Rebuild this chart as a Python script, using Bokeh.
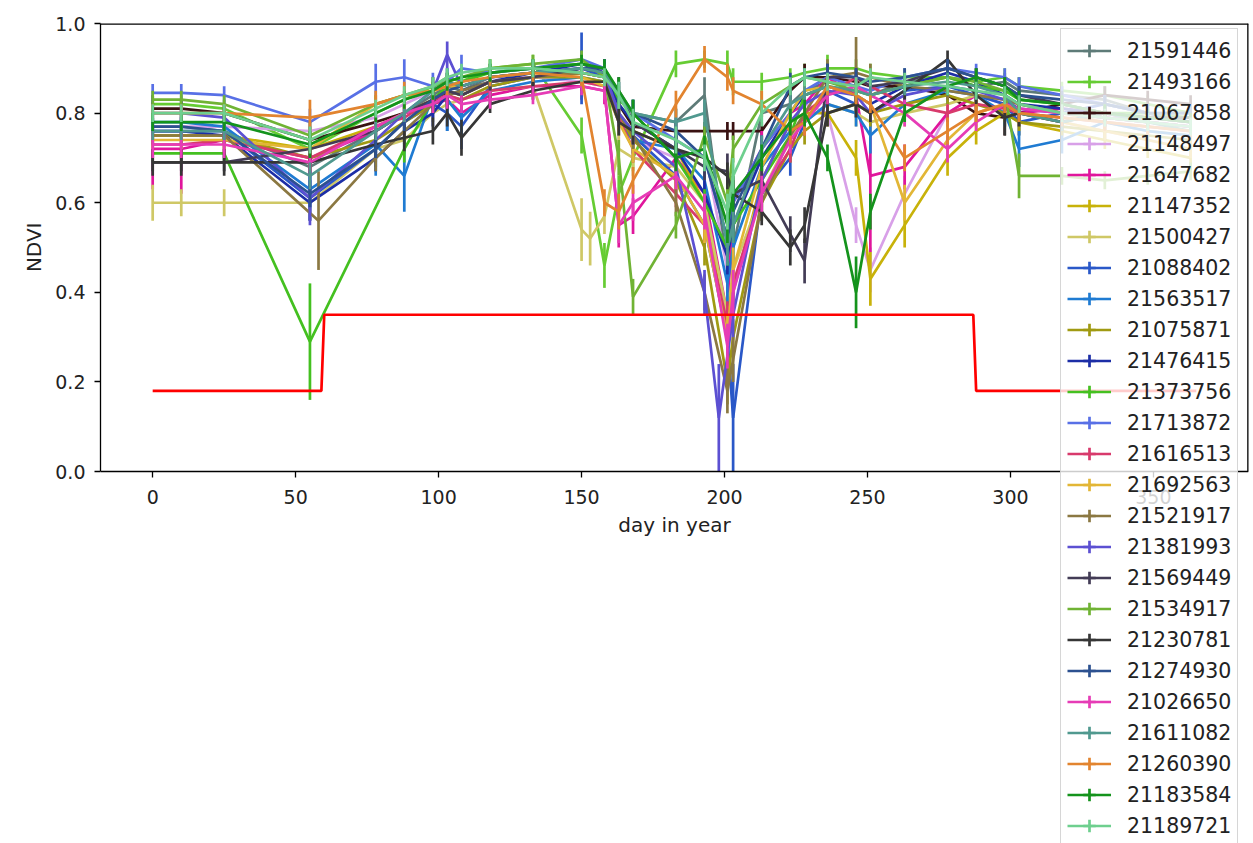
import math
from bokeh.plotting import figure
from bokeh.models import Legend, LegendItem, FixedTicker, PrintfTickFormatter, Title
from bokeh.embed import file_html
from bokeh.resources import INLINE

N = None

# acquisition days (day in year)
days = [0, 10, 25, 55, 58, 78, 88, 98, 103, 108, 118, 133, 150, 153, 158, 163, 168,
        183, 193, 198, 201, 203, 213, 223, 228, 236, 246, 251, 263, 278, 288, 298, 303,
        318, 333, 348, 363]

field_ids = ["21591446", "21493166", "21067858", "21148497", "21647682", "21147352",
             "21500427", "21088402", "21563517", "21075871", "21476415", "21373756",
             "21713872", "21616513", "21692563", "21521917", "21381993", "21569449",
             "21534917", "21230781", "21274930", "21026650", "21611082", "21260390",
             "21183584", "21189721"]

colors = ["#5e7b78", "#66cc33", "#3a1212", "#d8a0e8", "#e0169c", "#c8b20a",
          "#cfc866", "#2a58c8", "#1f7bd2", "#a09a12", "#1c2ea6", "#44c020",
          "#5870e6", "#d83a6c", "#e2b636", "#8b7842", "#5c50d2", "#433c56",
          "#70b334", "#363636", "#2c5190", "#e63cb6", "#50998f", "#e2842f",
          "#14931c", "#6ecf8e"]

ndvi_21591446 = [0.77,0.77,0.76,0.68,N,0.76,0.80,0.84,0.86,0.85,0.88,0.89,0.90,N,0.89,0.85,0.80,0.78,0.84,N,0.45,0.50,0.80,0.82,0.85,0.87,0.86,0.84,0.87,0.88,0.86,0.87,0.85,0.84,0.83,0.80,0.78]
ndvi_21493166 = [0.82,0.82,0.81,0.72,N,0.80,0.83,0.86,0.88,0.87,0.90,0.91,0.75,N,0.46,0.62,0.70,0.91,0.92,N,0.91,0.87,0.87,0.88,0.89,0.90,0.90,0.89,0.88,0.88,0.87,0.88,0.86,0.85,0.84,0.82,0.80]
ndvi_21067858 = [0.81,0.81,0.80,0.74,N,0.78,0.80,0.82,0.85,0.84,0.87,0.88,0.89,N,0.88,0.82,0.77,0.76,0.76,N,0.76,0.76,0.76,0.85,0.88,0.88,0.87,0.86,0.86,0.84,0.80,0.79,0.80,0.82,0.84,0.83,0.82]
ndvi_21148497 = [0.77,0.77,0.77,0.76,N,0.79,0.82,0.85,0.87,0.86,0.88,0.88,0.87,N,0.86,0.78,0.74,0.70,0.72,N,0.45,0.55,0.70,0.78,0.82,0.80,0.55,0.45,0.62,0.80,0.84,0.82,0.80,0.78,0.76,0.74,0.72]
ndvi_21647682 = [0.72,0.72,0.74,0.70,N,0.76,0.80,0.82,0.83,0.80,0.84,0.86,0.86,N,0.85,0.55,0.57,0.70,0.62,N,0.35,0.60,0.72,0.80,0.82,0.88,0.84,0.66,0.68,0.80,0.84,0.83,0.80,0.81,0.80,0.78,0.77]
ndvi_21147352 = [0.75,0.75,0.75,0.72,N,0.77,0.80,0.83,0.85,0.84,0.87,0.88,0.89,N,0.88,0.80,0.76,0.72,0.60,N,0.30,0.40,0.65,0.78,0.80,0.80,0.70,0.43,0.55,0.70,0.76,0.80,0.78,0.76,0.74,0.72,0.70]
ndvi_21500427 = [0.60,0.60,0.60,0.60,N,0.72,0.74,0.80,0.82,0.83,0.85,0.86,0.54,0.52,0.57,0.72,0.70,0.68,0.60,N,0.35,0.45,0.62,0.75,0.78,0.82,0.80,0.78,0.80,0.82,0.84,0.83,0.82,0.80,0.78,0.76,0.75]
ndvi_21088402 = [0.76,0.76,0.76,0.61,N,0.72,0.78,0.82,0.80,0.77,0.86,0.88,0.90,N,0.88,0.80,0.75,0.66,0.55,N,0.30,0.12,0.62,0.70,0.78,0.85,0.82,0.80,0.85,0.86,0.84,0.82,0.78,0.80,0.82,0.80,0.78]
ndvi_21563517 = [0.78,0.78,0.77,0.63,N,0.73,0.66,0.84,0.83,0.79,0.85,0.87,0.88,N,0.87,0.78,0.74,0.72,0.65,N,0.42,0.50,0.68,0.76,0.78,0.82,0.80,0.75,0.82,0.85,0.84,0.80,0.72,0.74,0.78,0.76,0.75]
ndvi_21075871 = [0.75,0.75,0.75,0.70,N,0.74,0.78,0.82,0.84,0.83,0.86,0.88,0.88,N,0.87,0.80,0.74,0.65,0.50,N,0.20,0.30,0.60,0.72,0.76,0.80,0.82,0.80,0.82,0.84,0.82,0.80,0.78,0.77,0.76,0.75,0.74]
ndvi_21476415 = [0.76,0.76,0.75,0.60,N,0.70,0.76,0.80,0.84,0.85,0.87,0.89,0.91,N,0.89,0.82,0.78,0.72,0.62,N,0.48,0.55,0.70,0.80,0.84,0.86,0.84,0.82,0.86,0.89,0.87,0.84,0.82,0.81,0.80,0.79,0.78]
ndvi_21373756 = [0.71,0.71,0.71,0.29,N,N,0.72,0.83,0.86,0.87,0.89,0.90,0.91,N,0.90,0.83,0.80,0.70,0.60,N,0.50,0.55,0.65,0.75,0.84,0.86,0.85,0.84,0.86,0.88,0.86,0.85,0.83,0.82,0.80,0.80,0.79]
ndvi_21713872 = [0.845,0.845,0.84,0.78,N,0.87,0.88,0.86,0.87,0.90,0.89,0.90,0.92,N,0.90,0.84,0.80,0.74,0.70,N,0.52,0.60,0.72,0.80,0.85,0.88,0.86,0.85,0.88,0.90,0.89,0.88,0.86,0.84,0.82,0.80,0.80]
ndvi_21616513 = [0.73,0.73,0.74,0.70,N,0.77,0.79,0.83,0.84,0.83,0.85,0.86,0.87,N,0.86,0.79,0.72,0.62,0.55,N,0.33,0.42,0.62,0.72,0.80,0.84,0.88,0.86,0.82,0.80,0.82,0.81,0.80,0.79,0.78,0.77,0.76]
ndvi_21692563 = [0.74,0.74,0.74,0.72,N,0.82,0.84,0.85,0.86,0.86,0.88,0.89,0.88,N,0.86,0.78,0.72,0.66,0.55,N,0.30,0.45,0.68,0.80,0.85,0.86,0.84,0.82,0.60,0.74,0.80,0.82,0.80,0.78,0.76,0.74,0.72]
ndvi_21521917 = [0.75,0.75,0.75,N,0.56,0.70,0.76,0.82,0.84,0.85,0.87,0.88,0.89,N,0.88,0.80,0.75,0.60,0.40,N,0.18,0.25,0.60,0.75,0.80,0.88,0.89,0.88,0.86,0.85,0.84,0.83,0.82,0.80,0.79,0.78,0.77]
ndvi_21381993 = [0.80,0.80,0.79,0.61,N,0.74,0.80,0.85,0.93,0.86,0.88,0.89,0.90,N,0.89,0.80,0.76,0.68,0.40,0.12,N,0.35,0.65,0.78,0.82,0.85,0.84,0.80,0.84,0.86,0.85,0.83,0.81,0.80,0.79,0.78,0.77]
ndvi_21569449 = [0.69,0.69,0.69,0.72,N,0.76,0.80,0.83,0.85,0.84,0.87,0.88,0.90,N,0.89,0.85,0.78,0.72,0.68,N,0.67,0.62,0.65,0.53,0.47,0.88,0.88,0.86,0.87,0.90,0.88,0.86,0.84,0.82,0.80,0.79,0.78]
ndvi_21534917 = [0.83,0.83,0.82,0.75,N,0.82,0.84,0.86,0.87,0.88,0.90,0.91,0.92,N,0.88,0.70,0.39,0.55,0.75,N,0.60,0.72,0.82,0.86,0.88,0.87,0.85,0.84,0.86,0.88,0.87,0.85,0.66,0.66,0.65,0.66,0.67]
ndvi_21230781 = [0.69,0.69,0.69,0.69,N,0.73,0.745,0.76,0.80,0.745,0.82,0.85,0.87,N,0.87,0.78,0.76,0.72,0.70,N,0.66,0.62,0.58,0.50,0.55,0.80,0.82,0.80,0.85,0.92,0.84,0.79,0.80,0.78,0.80,0.79,0.79]
ndvi_21274930 = [0.77,0.77,0.76,0.62,N,0.72,0.78,0.83,0.85,0.86,0.88,0.89,0.90,N,0.90,0.84,0.80,0.76,0.70,N,0.52,0.58,0.72,0.86,0.88,0.89,0.88,0.87,0.88,0.90,0.88,0.86,0.84,0.83,0.82,0.80,0.80]
ndvi_21026650 = [0.73,0.73,0.73,0.69,N,0.77,0.80,0.82,0.84,0.82,0.83,0.84,0.86,N,0.85,0.55,0.60,0.66,0.58,N,0.28,0.40,0.62,0.74,0.78,0.84,0.86,0.84,0.80,0.72,0.78,0.82,0.81,0.80,0.79,0.78,0.77]
ndvi_21611082 = [0.76,0.76,0.76,0.66,N,0.76,0.80,0.85,0.87,0.86,0.88,0.89,0.90,N,0.89,0.84,0.80,0.78,0.80,N,0.50,0.55,0.72,0.82,0.84,0.86,0.85,0.84,0.86,0.87,0.86,0.84,0.80,0.78,0.80,0.78,0.76]
ndvi_21260390 = [0.80,0.80,0.80,0.79,N,0.82,0.84,0.85,0.86,0.87,0.88,0.89,0.88,N,0.60,0.58,0.65,0.82,0.92,N,0.88,0.85,0.82,0.76,0.78,0.86,0.84,0.82,0.70,0.76,0.80,0.82,0.80,0.79,0.78,0.77,0.76]
ndvi_21183584 = [0.78,0.78,0.78,0.73,N,0.80,0.83,0.85,0.87,0.88,0.89,0.90,0.91,N,0.90,0.85,0.80,0.70,0.72,N,0.55,0.62,0.70,0.78,0.80,0.70,0.40,0.58,0.80,0.86,0.88,0.86,0.83,0.82,0.80,0.79,0.78]
ndvi_21189721 = [0.80,0.80,0.80,0.74,N,0.81,0.84,0.86,0.88,0.89,0.90,0.90,0.89,N,0.88,0.84,0.78,0.74,0.70,N,0.58,0.66,0.80,0.86,0.88,0.87,0.86,0.88,0.87,0.86,0.85,0.84,0.82,0.80,0.79,0.78,0.77]

err_21591446 = [0.03,0.03,0.03,0.04,0,0.03,0.03,0.02,0.03,0.02,0.02,0.02,0.03,0,0.02,0.03,0.03,0.03,0.04,0,0.06,0.05,0.03,0.03,0.03,0.02,0.02,0.03,0.02,0.02,0.03,0.02,0.03,0.02,0.03,0.02,0.03]
err_21493166 = [0.02,0.02,0.02,0.03,0,0.03,0.02,0.02,0.02,0.02,0.02,0.02,0.04,0,0.05,0.04,0.03,0.03,0.02,0,0.03,0.03,0.02,0.02,0.02,0.03,0.02,0.02,0.02,0.02,0.03,0.02,0.02,0.02,0.02,0.02,0.02]
err_21067858 = [0.03,0.02,0.02,0.03,0,0.02,0.02,0.02,0.03,0.03,0.02,0.02,0.02,0,0.02,0.03,0.02,0.02,0.02,0,0.02,0.02,0.02,0.02,0.03,0.02,0.02,0.02,0.02,0.02,0.02,0.04,0.02,0.02,0.02,0.02,0.02]
err_21148497 = [0.02,0.02,0.02,0.02,0,0.03,0.02,0.02,0.02,0.02,0.02,0.02,0.02,0,0.03,0.04,0.03,0.03,0.03,0,0.06,0.05,0.04,0.03,0.03,0.03,0.04,0.05,0.04,0.03,0.02,0.02,0.03,0.03,0.02,0.02,0.02]
err_21647682 = [0.09,0.10,0.03,0.04,0,0.03,0.03,0.02,0.03,0.03,0.02,0.02,0.03,0,0.03,0.05,0.04,0.04,0.05,0,0.08,0.05,0.04,0.03,0.03,0.03,0.04,0.17,0.05,0.03,0.03,0.02,0.03,0.03,0.02,0.02,0.02]
err_21147352 = [0.02,0.02,0.02,0.03,0,0.02,0.02,0.02,0.02,0.02,0.02,0.02,0.02,0,0.02,0.03,0.03,0.03,0.04,0,0.05,0.05,0.04,0.03,0.03,0.03,0.04,0.06,0.05,0.04,0.03,0.03,0.03,0.02,0.02,0.02,0.02]
err_21500427 = [0.04,0.03,0.03,0.04,0,0.03,0.03,0.02,0.02,0.02,0.02,0.02,0.07,0.06,0.04,0.04,0.04,0.03,0.04,0,0.05,0.04,0.03,0.03,0.03,0.02,0.03,0.03,0.03,0.03,0.02,0.02,0.02,0.02,0.02,0.02,0.02]
err_21088402 = [0.03,0.03,0.02,0.05,0,0.04,0.03,0.03,0.04,0.05,0.02,0.02,0.08,0,0.03,0.03,0.03,0.04,0.05,0,0.06,0.12,0.05,0.04,0.03,0.03,0.03,0.03,0.03,0.03,0.02,0.02,0.03,0.03,0.02,0.02,0.02]
err_21563517 = [0.03,0.03,0.03,0.04,0,0.07,0.08,0.03,0.07,0.04,0.02,0.02,0.03,0,0.03,0.03,0.03,0.03,0.04,0,0.05,0.05,0.04,0.03,0.03,0.03,0.03,0.04,0.03,0.03,0.03,0.03,0.04,0.03,0.02,0.02,0.02]
err_21075871 = [0.02,0.02,0.02,0.03,0,0.02,0.02,0.02,0.02,0.02,0.02,0.02,0.02,0,0.02,0.03,0.03,0.03,0.04,0,0.05,0.04,0.04,0.03,0.03,0.02,0.02,0.03,0.02,0.02,0.02,0.02,0.02,0.02,0.02,0.02,0.02]
err_21476415 = [0.03,0.03,0.02,0.04,0,0.03,0.03,0.03,0.03,0.03,0.02,0.02,0.03,0,0.03,0.03,0.03,0.03,0.03,0,0.04,0.04,0.03,0.03,0.03,0.02,0.02,0.02,0.02,0.02,0.02,0.02,0.02,0.02,0.02,0.02,0.02]
err_21373756 = [0.02,0.02,0.02,0.13,0,0,0.03,0.03,0.02,0.02,0.02,0.02,0.02,0,0.02,0.03,0.03,0.03,0.03,0,0.04,0.04,0.03,0.03,0.02,0.02,0.02,0.02,0.02,0.02,0.02,0.02,0.02,0.02,0.02,0.02,0.02]
err_21713872 = [0.02,0.02,0.02,0.03,0,0.04,0.04,0.03,0.03,0.03,0.02,0.02,0.02,0,0.02,0.03,0.03,0.03,0.03,0,0.05,0.04,0.03,0.03,0.02,0.02,0.02,0.02,0.02,0.02,0.02,0.02,0.02,0.02,0.02,0.02,0.02]
err_21616513 = [0.03,0.03,0.03,0.03,0,0.02,0.02,0.02,0.02,0.02,0.02,0.02,0.02,0,0.02,0.03,0.03,0.03,0.04,0,0.05,0.05,0.04,0.03,0.03,0.02,0.02,0.02,0.02,0.02,0.03,0.02,0.02,0.02,0.02,0.02,0.02]
err_21692563 = [0.02,0.02,0.02,0.03,0,0.02,0.02,0.02,0.02,0.02,0.02,0.02,0.02,0,0.02,0.03,0.03,0.03,0.04,0,0.05,0.05,0.04,0.04,0.03,0.02,0.02,0.02,0.04,0.04,0.03,0.02,0.02,0.02,0.02,0.02,0.02]
err_21521917 = [0.02,0.02,0.02,0,0.11,0.03,0.02,0.02,0.02,0.02,0.02,0.02,0.02,0,0.02,0.03,0.03,0.03,0.04,0,0.05,0.05,0.04,0.03,0.03,0.04,0.08,0.03,0.02,0.02,0.02,0.02,0.02,0.02,0.02,0.02,0.02]
err_21381993 = [0.03,0.03,0.03,0.06,0,0.03,0.03,0.03,0.03,0.04,0.02,0.02,0.03,0,0.03,0.03,0.03,0.03,0.05,0.12,0,0.05,0.04,0.03,0.03,0.02,0.02,0.02,0.02,0.02,0.02,0.02,0.02,0.02,0.02,0.02,0.02]
err_21569449 = [0.02,0.02,0.02,0.03,0,0.02,0.02,0.02,0.02,0.02,0.02,0.02,0.02,0,0.02,0.03,0.03,0.03,0.03,0,0.04,0.04,0.04,0.04,0.05,0.03,0.02,0.02,0.02,0.02,0.02,0.02,0.02,0.02,0.02,0.02,0.02]
err_21534917 = [0.02,0.02,0.02,0.03,0,0.02,0.02,0.02,0.02,0.02,0.02,0.02,0.02,0,0.02,0.04,0.04,0.03,0.03,0,0.04,0.03,0.03,0.02,0.02,0.02,0.02,0.02,0.02,0.02,0.02,0.03,0.05,0.02,0.02,0.02,0.02]
err_21230781 = [0.03,0.03,0.03,0.03,0,0.03,0.03,0.03,0.03,0.04,0.02,0.02,0.02,0,0.02,0.03,0.03,0.03,0.03,0,0.03,0.03,0.03,0.04,0.04,0.03,0.03,0.02,0.02,0.02,0.02,0.04,0.03,0.02,0.02,0.02,0.02]
err_21274930 = [0.02,0.02,0.02,0.03,0,0.02,0.02,0.02,0.02,0.02,0.02,0.02,0.02,0,0.02,0.03,0.03,0.03,0.03,0,0.04,0.04,0.03,0.03,0.02,0.02,0.02,0.02,0.02,0.02,0.02,0.02,0.02,0.02,0.02,0.02,0.02]
err_21026650 = [0.03,0.03,0.03,0.03,0,0.02,0.02,0.02,0.03,0.02,0.02,0.02,0.02,0,0.02,0.04,0.04,0.03,0.04,0,0.05,0.05,0.04,0.03,0.03,0.02,0.02,0.02,0.03,0.03,0.02,0.02,0.02,0.02,0.02,0.02,0.02]
err_21611082 = [0.02,0.02,0.02,0.03,0,0.02,0.02,0.02,0.02,0.02,0.02,0.02,0.02,0,0.02,0.03,0.03,0.03,0.03,0,0.04,0.04,0.03,0.03,0.02,0.02,0.02,0.02,0.02,0.02,0.02,0.02,0.02,0.02,0.02,0.02,0.02]
err_21260390 = [0.02,0.02,0.02,0.04,0,0.03,0.03,0.02,0.02,0.02,0.02,0.02,0.02,0,0.03,0.04,0.03,0.03,0.03,0,0.03,0.03,0.03,0.03,0.03,0.02,0.02,0.02,0.03,0.03,0.02,0.02,0.02,0.02,0.02,0.02,0.02]
err_21183584 = [0.02,0.02,0.02,0.03,0,0.02,0.02,0.02,0.02,0.02,0.02,0.02,0.02,0,0.02,0.03,0.03,0.03,0.03,0,0.04,0.04,0.03,0.03,0.03,0.03,0.08,0.04,0.02,0.02,0.02,0.02,0.02,0.02,0.02,0.02,0.02]
err_21189721 = [0.02,0.02,0.02,0.03,0,0.02,0.02,0.02,0.02,0.02,0.02,0.02,0.02,0,0.02,0.03,0.03,0.03,0.03,0,0.04,0.04,0.03,0.02,0.02,0.02,0.02,0.02,0.02,0.02,0.02,0.02,0.02,0.02,0.02,0.02,0.02]

# red threshold step line
threshold_days = [0, 59, 60, 287, 288, 365]
threshold_ndvi = [0.18, 0.18, 0.35, 0.35, 0.18, 0.18]

x_ticks = [0, 50, 100, 150, 200, 250, 300, 350]
y_ticks = [0.0, 0.2, 0.4, 0.6, 0.8, 1.0]

series_vals = [globals()["ndvi_" + s] for s in field_ids]
series_errs = [globals()["err_" + s] for s in field_ids]
for s, v, e in zip(field_ids, series_vals, series_errs):
    assert len(v) == len(days), (s, len(v))
    assert len(e) == len(days), (s, "err", len(e))

FONT = "DejaVu Sans"
LW = 2.7
X0, X1 = -18.25, 383.25
# the frame runs to the bottom of the page so that the overflowing legend is not clipped;
# the visible axes box covers NDVI 0..1
Y0, Y1 = -0.830, 1.0

p = figure(frame_width=1148, frame_height=820,
           x_range=(X0, X1), y_range=(Y0, Y1),
           min_border_left=100, min_border_right=5, min_border_top=23, min_border_bottom=0,
           output_backend="svg", toolbar_location=None,
           background_fill_color="white", border_fill_color="white")
p.outline_line_color = None

items = []
for sid, col, vals, errs in zip(field_ids, colors, series_vals, series_errs):
    xs, ys, lo, hi = [], [], [], []
    for d, v, e in zip(days, vals, errs):
        if v is None:
            continue
        xs.append(d)
        ys.append(v)
        lo.append(v - e)
        hi.append(v + e)
    r_line = p.line(xs, ys, line_color=col, line_width=LW)
    p.segment(x0=xs, y0=lo, x1=xs, y1=hi, line_color=col, line_width=LW)
    r_leg = p.scatter(x=[float("nan")], y=[float("nan")], marker="cross",
                      line_color=col, line_width=LW, size=12)
    items.append(LegendItem(label=sid, renderers=[r_line, r_leg]))

p.line(threshold_days, threshold_ndvi, line_color="#ff0000", line_width=LW)

# top and right spines (half of the width falls outside the frame)
p.line([X0, X1], [Y1, Y1], line_color="black", line_width=2.6)
p.line([X1, X1], [0, Y1], line_color="black", line_width=2.6)

p.xgrid.visible = False
p.ygrid.visible = False

p.xaxis.ticker = FixedTicker(ticks=x_ticks)
p.yaxis.ticker = FixedTicker(ticks=y_ticks)
p.yaxis.formatter = PrintfTickFormatter(format="%.1f")
p.xaxis.fixed_location = 0
p.yaxis.bounds = (0, 1)
p.xaxis.axis_label = "day in year"
for ax in (p.xaxis, p.yaxis):
    ax.axis_line_color = "black"
    ax.axis_line_width = 1.3
    ax.major_tick_line_color = "black"
    ax.major_tick_line_width = 1.3
    ax.major_tick_out = 6
    ax.major_tick_in = 0
    ax.minor_tick_line_color = None
    ax.major_label_text_font = FONT
    ax.major_label_text_font_size = "19px"
    ax.major_label_text_color = "#222222"
    ax.axis_label_text_font = FONT
    ax.axis_label_text_font_size = "20px"
    ax.axis_label_text_font_style = "normal"
    ax.axis_label_text_color = "#222222"
p.xaxis.major_label_standoff = 12
p.yaxis.major_label_standoff = 9
p.xaxis.axis_label_standoff = 6

ylab = Title(text="NDVI", align="right", offset=199, standoff=14,
             text_font=FONT, text_font_size="20px", text_font_style="normal",
             text_color="#222222")
p.add_layout(ylab, "left")

legend = Legend(items=items, location=(960, -5), orientation="vertical",
                glyph_width=44, glyph_height=31, label_height=31, spacing=0,
                padding=6, margin=0, label_standoff=16,
                label_text_font=FONT, label_text_font_size="20.5px",
                label_text_color="#222222",
                background_fill_color="white", background_fill_alpha=0.8,
                border_line_color="#cccccc", border_line_alpha=0.8, border_line_width=1)
p.add_layout(legend)

open("out.html", "w").write(file_html(p, INLINE))
